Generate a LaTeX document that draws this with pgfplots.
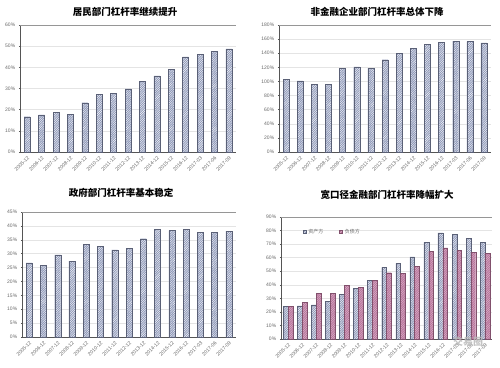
\documentclass[border=0pt]{standalone}
\usepackage{fontspec}
\setmainfont{Liberation Sans}
\newfontfamily\cjk{Noto Sans CJK SC}
\usepackage{pgfplots}
\pgfplotsset{compat=1.18}
\usetikzlibrary{patterns.meta}
\definecolor{barblue}{RGB}{138,148,182}
\definecolor{barpink}{RGB}{185,115,155}
\definecolor{gridc}{RGB}{228,228,228}
\definecolor{axc}{RGB}{85,85,85}
\definecolor{labc}{RGB}{105,105,105}
\definecolor{topc}{RGB}{150,150,150}

\pgfplotsset{
 panel/.style={
  scale only axis, anchor=south west,
  xmin=-0.5, xmax=14.5, ymin=0,
  axis x line*=bottom, axis y line*=left,
  axis line style={axc, line width=0.8pt},
  xtick={0,...,14},
  xticklabels={2005-12,2006-12,2007-12,2008-12,2009-12,2010-12,2011-12,2012-12,2013-12,2014-12,2015-12,2016-12,2017-03,2017-06,2017-09},
  x tick label style={rotate=45, anchor=north east, font=\fontsize{5}{5}\selectfont, text=labc, inner sep=1pt},
  y tick label style={font=\fontsize{5}{5}\selectfont, text=labc},
  ymajorgrids, grid style={gridc, line width=0.4pt},
  major tick length=2.5pt, tick align=center,
  ytick style={axc, line width=0.5pt},
  xtick style={draw=none},
  /pgf/number format/assume math mode=true,
  yticklabel={\pgfmathprintnumber{\tick}\%},
  ybar, bar width=6pt,
  clip=false,
 },
 bluebar/.style={fill=barblue, draw=barblue!65!black, line width=0.3pt,
   postaction={pattern={Lines[angle=45,distance=1.6pt,line width=0.55pt]}, pattern color=white!85!barblue}},
 pinkbar/.style={fill=barpink, draw=barpink!70!black, line width=0.3pt,
   postaction={pattern={Lines[angle=45,distance=1.6pt,line width=0.35pt]}, pattern color=white!55!barpink}},
}

\begin{document}
\begin{tikzpicture}
\useasboundingbox (0pt,0pt) rectangle (500pt,367pt);

% Panel 1
\node[font=\cjk\bfseries\fontsize{9.5}{10}\selectfont] at (125pt,355pt) {居民部门杠杆率继续提升};
\begin{axis}[panel, at={(20pt,215pt)}, width=216pt, height=127pt, ymax=60, ytick={0,10,...,60}]
\draw[topc, line width=0.9pt] (rel axis cs:0,1) -- (rel axis cs:1,1);
\addplot[bluebar] coordinates {(0,16.7)(1,17.5)(2,18.6)(3,17.8)(4,23.3)(5,27.1)(6,27.8)(7,29.8)(8,33.3)(9,36.0)(10,39.2)(11,44.9)(12,46.3)(13,47.5)(14,48.7)};
\end{axis}

% Panel 2
\node[font=\cjk\bfseries\fontsize{9.5}{10}\selectfont] at (377pt,355pt) {非金融企业部门杠杆率总体下降};
\begin{axis}[panel, at={(279pt,215pt)}, width=212pt, height=127pt, ymax=180, ytick={0,20,...,180}]
\draw[topc, line width=0.9pt] (rel axis cs:0,1) -- (rel axis cs:1,1);
\addplot[bluebar] coordinates {(0,103.3)(1,100.9)(2,96.2)(3,96.2)(4,119.0)(5,120.8)(6,119.0)(7,130.8)(8,139.8)(9,146.9)(10,153.0)(11,155.9)(12,157.3)(13,156.4)(14,154.5)};
\end{axis}

% Panel 3
\node[font=\cjk\bfseries\fontsize{9.5}{10}\selectfont] at (121pt,174pt) {政府部门杠杆率基本稳定};
\begin{axis}[panel, at={(22pt,30pt)}, width=214pt, height=125pt, ymax=45, ytick={0,5,...,45}]
\draw[topc, line width=0.9pt] (rel axis cs:0,1) -- (rel axis cs:1,1);
\addplot[bluebar] coordinates {(0,26.7)(1,25.9)(2,29.6)(3,27.3)(4,33.3)(5,32.6)(6,31.4)(7,32.0)(8,35.4)(9,38.8)(10,38.3)(11,38.8)(12,37.6)(13,37.7)(14,38.1)};
\end{axis}

% Panel 4
\node[font=\cjk\bfseries\fontsize{9.5}{10}\selectfont] at (387pt,172pt) {宽口径金融部门杠杆率降幅扩大};
\begin{axis}[panel, at={(281pt,28pt)}, width=211pt, height=122pt, ymax=90, ytick={0,10,...,90}, bar width=4.8pt,
  legend style={at={(0.09,0.88)}, anchor=west, draw=none, fill=none, font=\cjk\fontsize{5}{5}\selectfont, text=labc,
    legend columns=2, /tikz/every even column/.append style={column sep=14pt}},
  legend image code/.code={\fill[#1] (0pt,-1.5pt) rectangle (3pt,1.5pt);}]
\draw[topc, line width=0.9pt] (rel axis cs:0,1) -- (rel axis cs:1,1);
\addplot[bluebar, bar shift=-2.4pt] coordinates {(0,24.0)(1,24.4)(2,25.2)(3,27.6)(4,32.8)(5,37.2)(6,43.3)(7,52.9)(8,55.8)(9,60.6)(10,71.2)(11,78.3)(12,77.3)(13,74.1)(14,71.2)};
\addplot[pinkbar, bar shift=2.4pt] coordinates {(0,23.9)(1,27.1)(2,33.8)(3,33.6)(4,39.4)(5,38.2)(6,43.1)(7,48.9)(8,48.4)(9,53.8)(10,64.6)(11,67.3)(12,65.3)(13,64.1)(14,63.4)};
\legend{资产方,负债方}
\end{axis}
\node[font=\cjk\bfseries\fontsize{10}{10}\selectfont, text=white!45!gray, opacity=0.85] at (468pt,25pt) {交易圈};
\end{tikzpicture}
\end{document}
